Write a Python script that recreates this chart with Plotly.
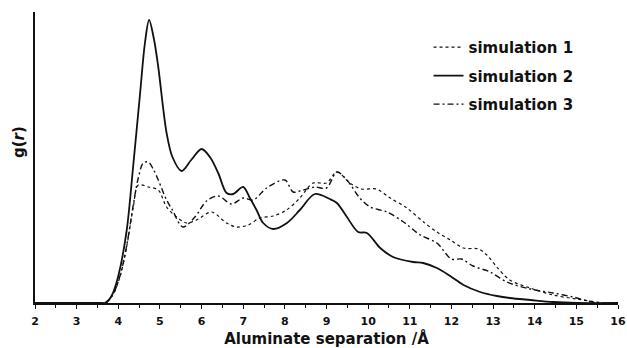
import plotly.graph_objects as go

# Radial distribution functions g(r) of aluminate–aluminate separation
r_sim1 = [2.0, 3.0, 3.65, 3.85, 4.04, 4.2, 4.36, 4.48, 4.72, 4.96, 5.16, 5.4, 5.64, 5.88,
          6.24, 6.6, 6.84, 7.12, 7.4, 7.72, 8.04, 8.36, 8.68, 9.0, 9.25, 9.56, 9.84,
          10.2, 10.53, 10.93, 11.33, 11.65, 11.97, 12.29, 12.65, 12.85, 13.09, 13.4,
          13.89, 14.44, 15.0, 15.7, 16.0]
g_sim1 = [0, 0, 0, 0.07, 0.26, 0.56, 0.96, 1.18, 1.16, 1.13, 0.96, 0.86, 0.80, 0.83,
          0.91, 0.80, 0.76, 0.78, 0.85, 0.87, 0.93, 1.05, 1.20, 1.20, 1.31, 1.20, 1.14,
          1.14, 1.05, 0.95, 0.81, 0.71, 0.63, 0.55, 0.54, 0.48, 0.36, 0.23,
          0.15, 0.08, 0.04, 0, 0]

r_sim2 = [2.0, 3.0, 3.6, 3.7, 3.85, 4.0, 4.2, 4.36, 4.52, 4.64, 4.74, 4.86, 4.96, 5.16,
          5.3, 5.52, 5.75, 6.0, 6.2, 6.4, 6.6, 6.76, 7.0, 7.16, 7.32, 7.48, 7.72, 8.05,
          8.36, 8.72, 9.08, 9.25, 9.49, 9.76, 9.97, 10.29, 10.6, 11.08, 11.32, 11.65,
          11.97, 12.29, 12.69, 13.09, 13.4, 13.9, 14.44, 15.0, 16.0]
g_sim2 = [0, 0, 0, 0, 0.08, 0.27, 0.72, 1.38, 2.08, 2.60, 2.83, 2.63, 2.36, 1.70,
          1.46, 1.32, 1.43, 1.54, 1.46, 1.30, 1.10, 1.09, 1.16, 1.05, 0.93, 0.80, 0.74, 0.80,
          0.93, 1.09, 1.04, 1.00, 0.86, 0.71, 0.70, 0.55, 0.46, 0.41, 0.40, 0.35,
          0.27, 0.18, 0.11, 0.07, 0.05, 0.03, 0.01, 0, 0]

r_sim3 = [2.0, 3.0, 3.65, 3.85, 4.04, 4.2, 4.36, 4.48, 4.6, 4.72, 4.85, 4.96, 5.16, 5.3,
          5.55, 5.84, 6.12, 6.4, 6.72, 7.0, 7.24, 7.56, 8.0, 8.2, 8.44, 8.72, 9.0, 9.25,
          9.49, 9.8, 10.05, 10.45, 10.85, 11.25, 11.65, 12.0, 12.24, 12.52, 12.93,
          13.33, 13.89, 14.44, 14.92, 15.5, 16.0]
g_sim3 = [0, 0, 0, 0.07, 0.27, 0.57, 0.98, 1.25, 1.40, 1.41, 1.33, 1.23, 1.03, 0.93,
          0.76, 0.86, 1.02, 1.07, 0.99, 1.05, 1.03, 1.15, 1.23, 1.11, 1.13, 1.16, 1.15, 1.31,
          1.23, 1.05, 0.96, 0.91, 0.81, 0.68, 0.60, 0.44, 0.44, 0.37, 0.31,
          0.21, 0.14, 0.10, 0.06, 0, 0]

x_ticks = list(range(2, 17))

FONT = "DejaVu Sans"
INK = "#111"

fig = go.Figure()
fig.add_trace(go.Scatter(x=r_sim1, y=g_sim1, mode="lines", name="simulation 1", legendgroup="s1",
                         line=dict(color=INK, width=1.2, dash="dot", shape="spline", smoothing=0.9)))
fig.add_trace(go.Scatter(x=r_sim2, y=g_sim2, mode="lines", name="simulation 2", legendgroup="s2",
                         line=dict(color=INK, width=1.8, shape="spline", smoothing=0.9)))
fig.add_trace(go.Scatter(x=r_sim3, y=g_sim3, mode="lines", name="simulation 3", legendgroup="s3",
                         line=dict(color=INK, width=1.4, dash="6px,3px,2px,3px", shape="spline", smoothing=0.9)))

fig.update_layout(
    width=627, height=348,
    margin=dict(l=35, r=9, t=12, b=45),
    paper_bgcolor="white", plot_bgcolor="white",
    font=dict(family=FONT, color=INK),
    showlegend=True,
    legend=dict(x=0.675, y=0.935, xanchor="left", yanchor="top",
                font=dict(size=15, family=FONT, weight="bold"),
                bgcolor="rgba(0,0,0,0)", traceorder="grouped", tracegroupgap=6, itemwidth=30),
    xaxis=dict(range=[2, 16], tickvals=x_ticks, ticktext=[str(t) for t in x_ticks],
               automargin=False,
               showgrid=False, zeroline=False, showline=True, linecolor=INK, linewidth=1.5,
               ticks="outside", ticklen=4, tickwidth=1.2, tickcolor=INK, ticklabelstandoff=3,
               minor=dict(dtick=0.5, ticks="outside", ticklen=3, tickcolor=INK, showgrid=False),
               tickfont=dict(size=11, family=FONT, weight="bold"),
               title=dict(text="Aluminate separation /Å", standoff=8,
                          font=dict(size=15, family=FONT, weight="bold"))),
    yaxis=dict(range=[0, 2.91], showgrid=False, zeroline=False, showline=True, automargin=False,
               linecolor=INK, linewidth=1.5, showticklabels=False, ticks=""),
    annotations=[dict(text="g(<i>r</i>)", textangle=-90, xref="paper", yref="paper",
                      x=-0.0275, y=0.553, xanchor="center", yanchor="middle", showarrow=False,
                      font=dict(size=15, family=FONT, weight="bold", color=INK))],
)

fig.write_html("out.html")
